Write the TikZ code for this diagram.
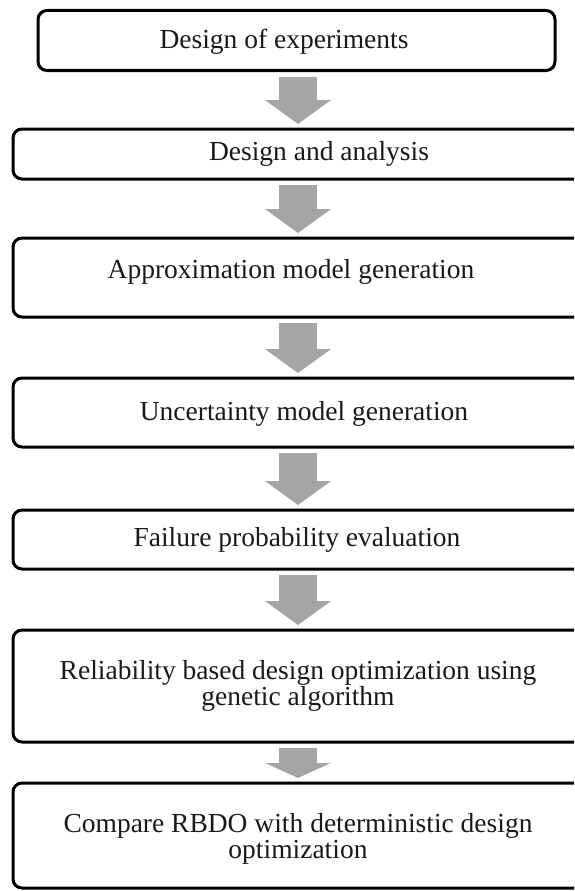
\documentclass[tikz,border=0pt]{standalone}
\usepackage{fontspec}
\setmainfont{Liberation Serif}
\usepackage{xcolor}
\usepackage{tikz}
\usetikzlibrary{calc,arrows.meta}
\definecolor{arrowgray}{RGB}{165,165,165}

\begin{document}
\begin{tikzpicture}[x=1pt,y=-1pt,
    stepbox/.style={draw, line width=3pt, rounded corners=9pt, outer sep=0pt, inner sep=0pt},
    steptext/.style={align=center, text=black!90, font=\fontsize{27.5}{26}\selectfont},
    flow/.style={draw=arrowgray, line width=38pt, -{Triangle[length=#1,width=65pt]}, shorten <=6pt, shorten >=5pt},
    flow/.default=24pt]
    \useasboundingbox (0,0) rectangle (574,891);
    \clip (0,0) rectangle (574,891);

    \node[stepbox, minimum width=517pt, minimum height=60pt] (b1) at (296.5,40.5) {};
    \node[stepbox, minimum width=587pt, minimum height=50pt] (b2) at (306.5,154) {};
    \node[stepbox, minimum width=587pt, minimum height=79pt] (b3) at (306.5,277.5) {};
    \node[stepbox, minimum width=587pt, minimum height=69pt] (b4) at (306.5,412.5) {};
    \node[stepbox, minimum width=587pt, minimum height=59pt] (b5) at (306.5,539.5) {};
    \node[stepbox, minimum width=587pt, minimum height=112pt] (b6) at (306.5,686) {};
    \node[stepbox, minimum width=587pt, minimum height=105pt] (b7) at (306.5,835.5) {};

    \node[steptext] (t1) at (284,42) {Design of experiments};
    \node[steptext] (t2) at (319,154) {Design and analysis};
    \node[steptext] (t3) at (291,272) {Approximation model generation};
    \node[steptext] (t4) at (304,414) {Uncertainty model generation};
    \node[steptext] (t5) at (297,540) {Failure probability evaluation};
    \node[steptext] (t6) at (298,686) {Reliability based design optimization using\\genetic algorithm};
    \node[steptext] (t7) at (298,839) {Compare RBDO with deterministic design\\optimization};

    \coordinate (ax) at (298,0);
    \foreach \a/\b in {b1/b2,b2/b3,b3/b4,b4/b5,b5/b6}
      \draw[flow] (\a.south -| ax) -- (\b.north -| ax);
    \draw[flow=15pt] (b6.south -| ax) -- (b7.north -| ax);
  \end{tikzpicture}
\end{document}
